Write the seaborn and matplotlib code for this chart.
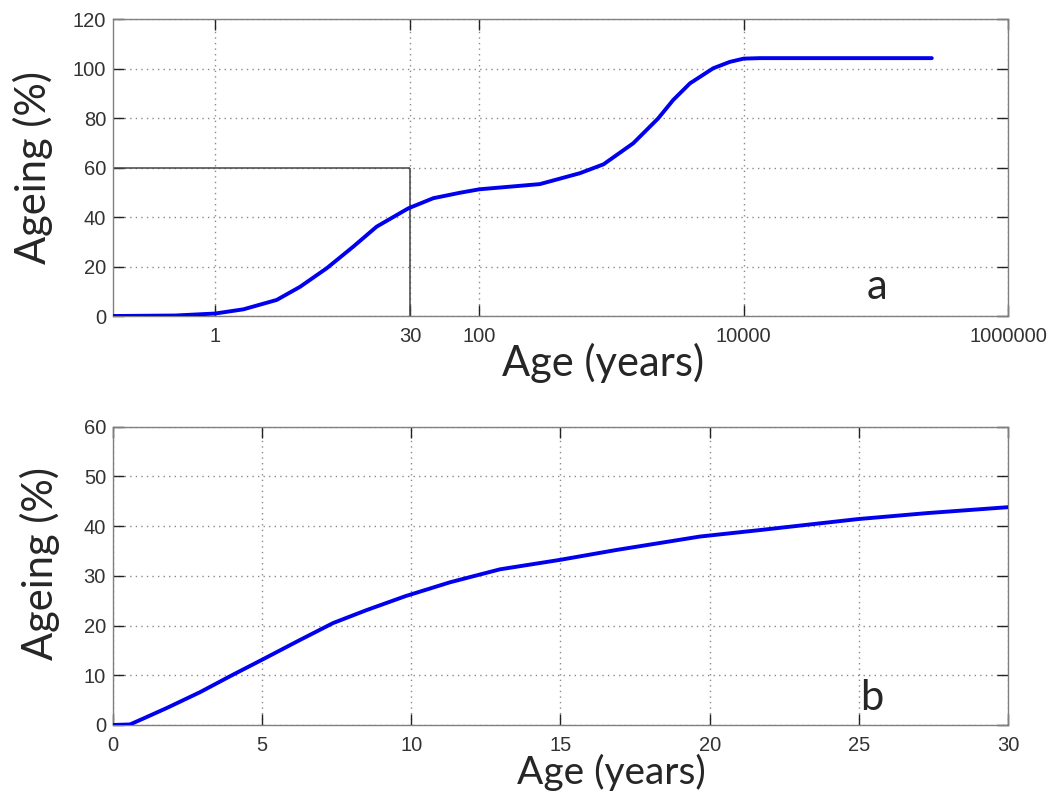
import numpy as np
import pandas as pd
import matplotlib
matplotlib.use("Agg")
import matplotlib.pyplot as plt
import seaborn as sns

# -----------------------------
# Data
# -----------------------------

# panel a: age on a log axis (years) and ageing (%)
age_log = [0.169, 0.5, 1.0, 1.64, 2.93, 4.4, 7.0, 11.1, 16.7, 29, 44.8, 71.3,
           100, 287, 576, 870, 1460, 2250, 2930, 3920, 5880, 7870, 10000,
           13300, 265000]
ageing_log = [0.0, 0.2, 1.0, 2.7, 6.5, 11.8, 19.3, 28.0, 36.1, 43.5, 47.6, 49.8,
              51.2, 53.3, 57.7, 61.3, 69.8, 79.8, 87.3, 94.0, 100.1, 102.7, 104.0,
              104.2, 104.2]

# panel b: first 30 years on a linear axis
age_lin = [0.0, 0.57, 1.02, 1.8, 2.92, 4.02, 4.96, 6.27, 7.38, 8.5, 9.8, 11.3,
           12.97, 14.98, 16.88, 19.68, 21.69, 24.96, 27.27, 30.0]
ageing_lin = [0.0, 0.1, 1.3, 3.4, 6.6, 10.1, 13.0, 17.1, 20.5, 23.1, 25.9, 28.7,
              31.3, 33.2, 35.2, 37.9, 39.2, 41.4, 42.6, 43.8]

xlim_a = (0.169, 1e6)
xticks_a = [1, 30, 100, 10000, 1000000]
xtick_labels_a = ["1", "30", "100", "10000", "1000000"]
yticks_a = [0, 20, 40, 60, 80, 100, 120]
xticks_b = [0, 5, 10, 15, 20, 25, 30]
yticks_b = [0, 10, 20, 30, 40, 50, 60]

# reference box in panel a
ref_age = 30
ref_ageing = 60

df_a = pd.DataFrame({"age": age_log, "ageing": ageing_log})
df_b = pd.DataFrame({"age": age_lin, "ageing": ageing_lin})

# -----------------------------
# Style
# -----------------------------

sns.set_style("ticks")
plt.rcParams["font.family"] = ["Liberation Sans", "DejaVu Sans"]
label_font = ["Lato", "DejaVu Sans"]
line_color = "#0000ee"
tick_color = "#333333"

fig = plt.figure(figsize=(10.51, 7.93), dpi=100)
# axes boxes in figure fractions (left 113px, right 1008px)
ax_a = fig.add_axes([0.1075, 0.6015, 0.8516, 0.3745])
ax_b = fig.add_axes([0.1075, 0.0858, 0.8516, 0.3762])


def matlab_axes(ax):
    for spine in ax.spines.values():
        spine.set_color("#808080")
        spine.set_linewidth(1.0)
    ax.tick_params(direction="in", top=True, right=True, length=8,
                   width=1.0, color="#222222", labelcolor=tick_color,
                   labelsize=14.5)
    ax.tick_params(axis="x", pad=8)
    ax.tick_params(axis="y", pad=5)
    ax.grid(True, linestyle=(0, (1, 3)), color="#8a8a8a", linewidth=1.0)
    ax.set_axisbelow(True)


# -----------------------------
# Panel a
# -----------------------------

sns.lineplot(data=df_a, x="age", y="ageing", ax=ax_a, color=line_color,
             linewidth=2.8, zorder=3)
ax_a.set_xscale("log")
ax_a.set_xlim(*xlim_a)
ax_a.set_ylim(0, 120)
ax_a.set_xticks(xticks_a)
ax_a.set_xticklabels(xtick_labels_a)
ax_a.xaxis.set_minor_locator(matplotlib.ticker.NullLocator())
ax_a.set_yticks(yticks_a)
matlab_axes(ax_a)

ax_a.hlines(ref_ageing, xlim_a[0], ref_age, color="#444444", linewidth=1.1, zorder=2)
ax_a.vlines(ref_age, 0, ref_ageing, color="#444444", linewidth=1.1, zorder=2)

ax_a.set_xlabel("Age (years)", family=label_font, fontsize=30)
ax_a.set_ylabel("Ageing (%)", family=label_font, fontsize=30)
ax_a.xaxis.set_label_coords(0.547, -0.09)
ax_a.yaxis.set_label_coords(-0.067, 0.5)
ax_a.text(1.02e5, 11.7, "a", family=label_font, fontsize=30,
          ha="center", va="center")

# -----------------------------
# Panel b
# -----------------------------

sns.lineplot(data=df_b, x="age", y="ageing", ax=ax_b, color=line_color,
             linewidth=2.8, zorder=3)
ax_b.set_xlim(0, 30)
ax_b.set_ylim(0, 60)
ax_b.set_xticks(xticks_b)
ax_b.set_yticks(yticks_b)
matlab_axes(ax_b)

ax_b.set_xlabel("Age (years)", family=label_font, fontsize=28)
ax_b.set_ylabel("Ageing (%)", family=label_font, fontsize=30)
ax_b.xaxis.set_label_coords(0.557, -0.097)
ax_b.yaxis.set_label_coords(-0.059, 0.541)
ax_b.text(25.05, 3.0, "b", family=label_font, fontsize=30,
          ha="left", va="baseline")

fig.savefig("out.png", dpi=100)
